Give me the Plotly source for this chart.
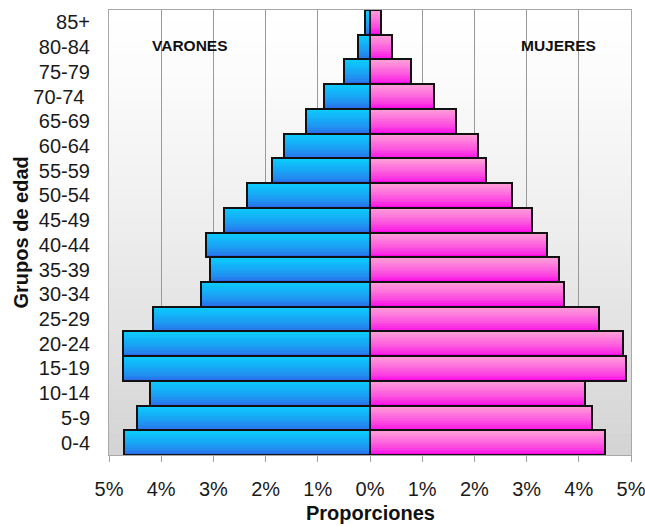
import plotly.graph_objects as go

# ---- data ----
age_groups = ["0-4", "5-9", "10-14", "15-19", "20-24", "25-29", "30-34", "35-39",
              "40-44", "45-49", "50-54", "55-59", "60-64", "65-69", "70-74 ",
              "75-79", "80-84", "85+"]
varones = [4.72, 4.47, 4.21, 4.74, 4.74, 4.15, 3.23, 3.06, 3.15, 2.79, 2.36,
           1.88, 1.65, 1.23, 0.88, 0.49, 0.23, 0.10]
mujeres = [4.51, 4.26, 4.12, 4.90, 4.84, 4.38, 3.72, 3.62, 3.40, 3.10, 2.72,
           2.22, 2.06, 1.64, 1.22, 0.79, 0.42, 0.22]
tick_vals = [-5, -4, -3, -2, -1, 0, 1, 2, 3, 4, 5]
tick_text = ["5%", "4%", "3%", "2%", "1%", "0%", "1%", "2%", "3%", "4%", "5%"]

FONT = "Liberation Sans, Arial, sans-serif"

def lerp(c1, c2, t):
    return "rgb(%d,%d,%d)" % tuple(round(a + (b - a) * t) for a, b in zip(c1, c2))

blue_bottom, blue_top = (44, 108, 234), (12, 202, 252)
pink_bottom, pink_top = (250, 8, 232), (255, 156, 216)

fig = go.Figure()
N = 14
neg_v = [-v for v in varones]
for vals, cb, ct in [(neg_v, blue_bottom, blue_top), (mujeres, pink_bottom, pink_top)]:
    for k in range(N):
        w = 1 - k / N
        t = (k / (N - 1)) ** 0.7
        fig.add_trace(go.Bar(
            y=age_groups, x=vals, orientation="h", width=w, offset=0.5 - w,
            marker=dict(color=lerp(cb, ct, t), line=dict(width=0)),
            showlegend=False, hoverinfo="skip"))
    fig.add_trace(go.Bar(
        y=age_groups, x=vals, orientation="h", width=1, offset=-0.5,
        marker=dict(color="rgba(0,0,0,0)", line=dict(color="#111111", width=2)),
        showlegend=False))

# background vertical gradient (white at top -> gray at bottom)
M = 40
for i in range(M):
    t = (i + 0.5) / M  # fraction from top
    g = round(255 - 44 * t ** 1.3)
    fig.add_shape(type="rect", xref="x domain", yref="y domain",
                  x0=0, x1=1, y0=1 - (i + 1) / M, y1=1 - i / M + 0.001,
                  fillcolor="rgb(%d,%d,%d)" % (g, g, g), line=dict(width=0),
                  layer="below")

fig.add_annotation(x=-3.45, y=0.944, xref="x", yref="paper", text="<b>VARONES</b>",
                   showarrow=False, font=dict(family=FONT, size=15.5, color="#111111"))
fig.add_annotation(x=3.61, y=0.944, xref="x", yref="paper", text="<b>MUJERES</b>",
                   showarrow=False, font=dict(family=FONT, size=15.5, color="#111111"))
fig.add_annotation(x=-89 / 522, y=0.5, xref="paper", yref="paper",
                   text="<b>Grupos de edad</b>", textangle=-90, showarrow=False,
                   xanchor="center", yanchor="middle",
                   font=dict(family=FONT, size=20, color="#111111"))
fig.add_annotation(x=0.5, y=-58 / 445, xref="paper", yref="paper",
                   text="<b>Proporciones</b>", showarrow=False,
                   xanchor="center", yanchor="middle",
                   font=dict(family=FONT, size=20, color="#111111"))

fig.update_layout(
    width=645, height=527,
    margin=dict(l=109, r=14, t=10, b=72, autoexpand=False),
    barmode="overlay", bargap=0,
    paper_bgcolor="white", plot_bgcolor="white",
    font=dict(family=FONT, size=20, color="#1a1a1a"),
    xaxis=dict(range=[-5, 5], tickvals=tick_vals, ticktext=tick_text,
               showgrid=True, gridcolor="#9a9a9a", gridwidth=1, zeroline=False,
               showline=True, linecolor="#a8a8a8", linewidth=1, mirror=True,
               ticks="outside", ticklen=6, tickcolor="#a0a0a0",
               ticklabelstandoff=10, ticklabeloverflow="allow", automargin=False),
    yaxis=dict(categoryorder="array", categoryarray=age_groups,
               showgrid=False, zeroline=False,
               showline=True, linecolor="#a8a8a8", linewidth=1, mirror=True,
               ticks="", ticklabelstandoff=14, automargin=False),
)

fig.write_html("out.html", config={"displayModeBar": False},
               post_script="document.body.style.margin='0';")
